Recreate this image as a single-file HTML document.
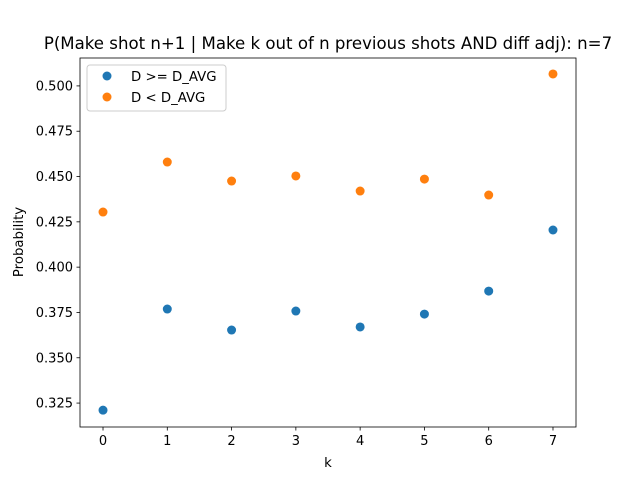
<!DOCTYPE html>
<html><head><meta charset="utf-8"><style>
body{margin:0;background:#fff;}
svg{display:block;font-family:"DejaVu Sans","Liberation Sans",sans-serif;}
</style></head><body>
<svg id="chart" width="640" height="480" viewBox="0 0 640 480">
<rect width="640" height="480" fill="#fff"/>
<text x="328" y="49" font-size="16.6" text-anchor="middle">P(Make shot n+1 | Make k out of n previous shots AND diff adj): n=7</text>
<g id="axes"></g>
<g id="marks"></g>
<rect x="80" y="58" width="496" height="369" fill="none" stroke="#000" stroke-width="0.8"/>
<text x="328" y="467" font-size="13.3" text-anchor="middle">k</text>
<text x="23" y="242" font-size="13.3" text-anchor="middle" transform="rotate(-90 23 242)">Probability</text>
<g>
<rect x="87" y="65" width="139" height="46" fill="#fff" stroke="#ccc" rx="3"/>
<g><circle cx="107" cy="76" r="4.5" fill="#1f77b4"/><text x="131" y="81" font-size="13.3">D &gt;= D_AVG</text></g>
<g><circle cx="107" cy="97" r="4.5" fill="#ff7f0e"/><text x="131" y="102" font-size="13.3">D &lt; D_AVG</text></g>
</g>
</svg>
<script>
const categories=[0,1,2,3,4,5,6,7];
const highValues=[0.3211,0.3769,0.3653,0.3758,0.3670,0.3741,0.3868,0.4205];
const lowValues=[0.4304,0.4580,0.4475,0.4503,0.4420,0.4486,0.4398,0.5066];
const yTicks=[0.325,0.350,0.375,0.400,0.425,0.450,0.475,0.500];
const xTicks=[0,1,2,3,4,5,6,7];
const NS="http://www.w3.org/2000/svg";
const L=80,R=576,T=58,B=427,xmin=-0.358,xmax=7.358,ymin=0.3118,ymax=0.5154;
function xs(v){return L+(v-xmin)/(xmax-xmin)*(R-L);}
function ys(v){return B-(v-ymin)/(ymax-ymin)*(B-T);}
const axes=document.getElementById('axes'),marks=document.getElementById('marks');
function mk(tag,at,parent){const e=document.createElementNS(NS,tag);for(const k in at)e.setAttribute(k,at[k]);parent.appendChild(e);return e;}
yTicks.forEach(t=>{const y=ys(t);
const l=mk('line',{x1:L-3.5,x2:L,y1:y,y2:y,stroke:'#000','stroke-width':0.8},axes);


const tx=mk('text',{x:L-7,y:y+4.5,'font-size':13,'text-anchor':'end'},axes);tx.textContent=t.toFixed(3);

});
xTicks.forEach(t=>{const x=xs(t);
const l=mk('line',{x1:x,x2:x,y1:B,y2:B+3.5,stroke:'#000','stroke-width':0.8},axes);


const tx=mk('text',{x:x,y:B+18,'font-size':13,'text-anchor':'middle'},axes);tx.textContent=t;

});
categories.forEach((c,i)=>{
const p=mk('circle',{cx:xs(c),cy:ys(highValues[i]),r:4.5,fill:'#1f77b4'},marks);


const q=mk('circle',{cx:xs(c),cy:ys(lowValues[i]),r:4.5,fill:'#ff7f0e'},marks);

});
</script>
</body></html>
